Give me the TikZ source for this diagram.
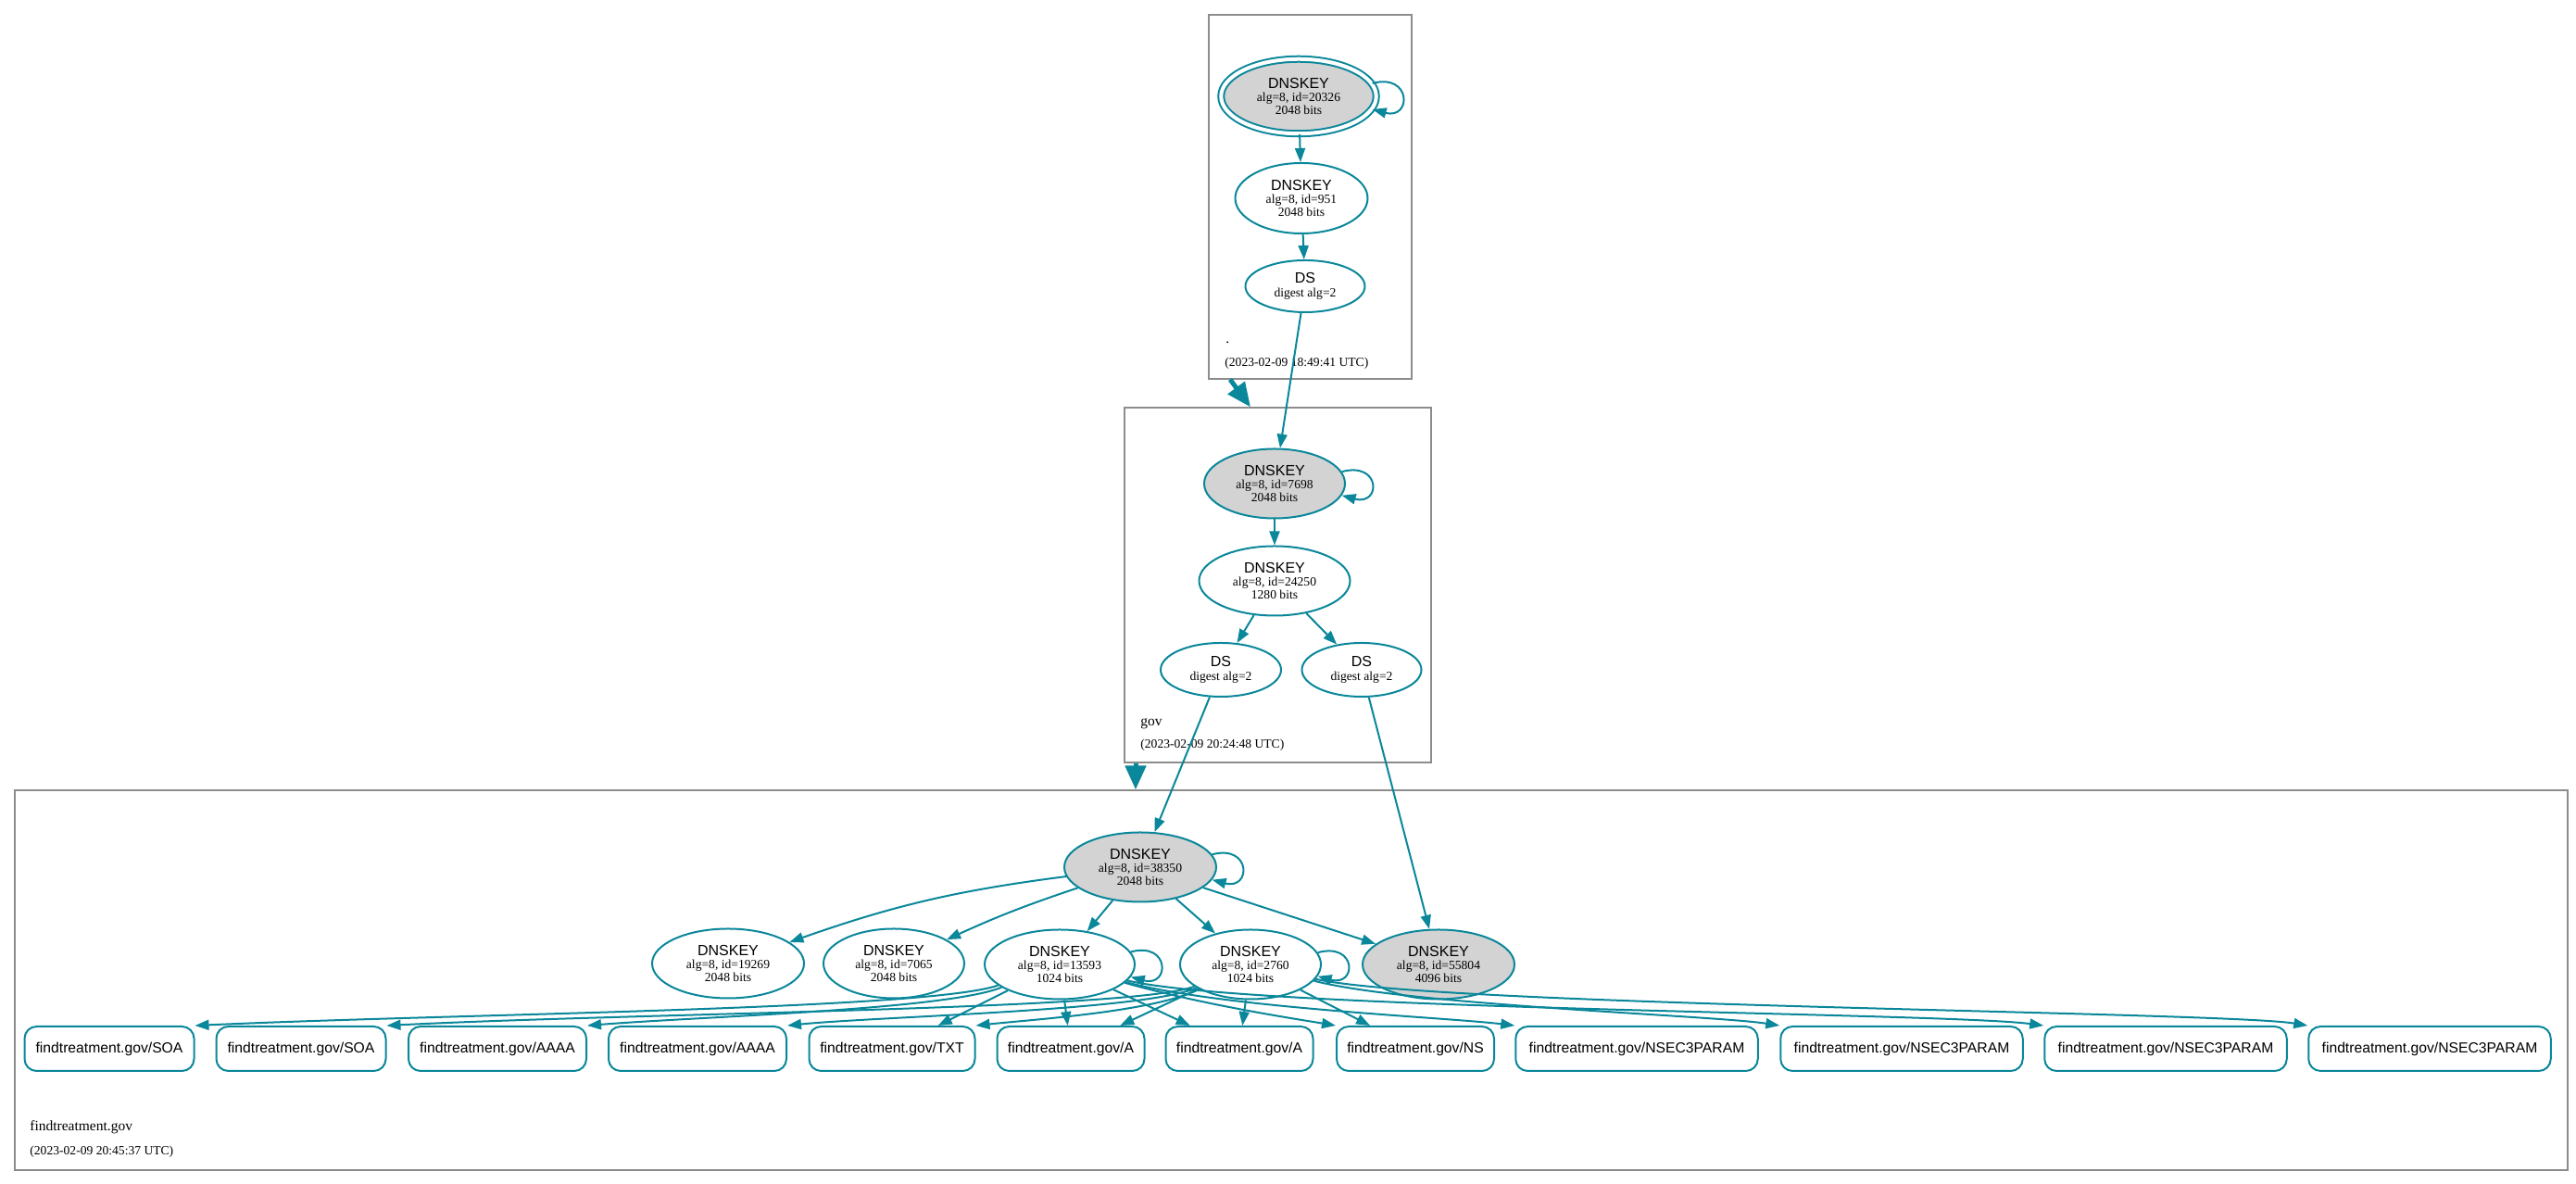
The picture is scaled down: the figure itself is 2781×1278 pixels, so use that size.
\documentclass[tikz,border=0pt]{standalone}
\usepackage{fontspec}
\setmainfont{Liberation Serif}
\setsansfont{Liberation Sans}
\usetikzlibrary{shapes.geometric,arrows.meta}

\definecolor{secure}{HTML}{0A879A}
\definecolor{keygray}{HTML}{D3D3D3}
\definecolor{zonegray}{HTML}{8C8C8C}

\newcommand{\rrtype}[1]{{\sffamily\fontsize{8}{8}\selectfont #1}}

\tikzset{
  key/.style={ellipse, draw=secure, line width=1pt, inner sep=0pt, align=center,
    font=\fontsize{6.8}{6.6}\selectfont},
  sepkey/.style={key, fill=keygray},
  anchorkey/.style={sepkey, double=white, double distance=2pt},
  rrset/.style={rectangle, rounded corners=6.5pt, draw=secure, line width=1pt,
    inner sep=0pt, minimum height=24pt, font=\sffamily\fontsize{7.85}{8}\selectfont},
  zone/.style={rectangle, draw=zonegray, line width=0.6pt, inner sep=0pt},
  zonename/.style={anchor=base west, inner sep=0pt, font=\fontsize{7.75}{8}\selectfont},
  stamp/.style={anchor=base west, inner sep=0pt, font=\fontsize{6.8}{7}\selectfont},
  sig/.style={draw=secure, line width=1pt, -{Triangle[length=7.5pt,width=5.5pt]}},
  selfsig/.style={sig, out=15, in=-15, distance=22pt},
  deleg/.style={draw=secure, line width=2.5pt, -{Triangle[length=13pt,width=11pt]}}
}

\begin{document}
\begin{tikzpicture}[x=0.5pt,y=0.5pt]
      \useasboundingbox (0,0) rectangle (2781,1278);
      \node[zone, minimum width=109.5pt, minimum height=196.5pt] (rootzone) at (1414.5,1065.5) {};
      \node[zone, minimum width=165.5pt, minimum height=191.5pt] (govzone) at (1379.5,646.5) {};
      \node[zone, minimum width=1378pt, minimum height=205pt] (ftzone) at (1394,220) {};
      \node[zonename] (rootname) at (1323,907) {.};
      \node[stamp] (rootstamp) at (1322,882.4) {(2023-02-09 18:49:41 UTC)};
      \node[zonename] (govname) at (1231,494.5) {gov};
      \node[stamp] (govstamp) at (1231,470.4) {(2023-02-09 20:24:48 UTC)};
      \node[zonename] (ftname) at (32,57) {findtreatment.gov};
      \node[stamp] (ftstamp) at (32,31.5) {(2023-02-09 20:45:37 UTC)};

      \node[anchorkey, minimum width=83.75pt, minimum height=40.25pt] (k20326) at (1402,1174)
        {\rrtype{DNSKEY}\\[0.4pt]alg=8, id=20326\\2048 bits};
      \node[key, minimum width=71.5pt, minimum height=38pt] (k951) at (1405,1064)
        {\rrtype{DNSKEY}\\[0.4pt]alg=8, id=951\\2048 bits};
      \node[key, minimum width=64.5pt, minimum height=28pt] (dsroot) at (1409,969)
        {\rrtype{DS}\\[0.6pt]digest alg=2};

      \node[sepkey, minimum width=76pt, minimum height=37.5pt] (k7698) at (1376,756)
        {\rrtype{DNSKEY}\\[0.4pt]alg=8, id=7698\\2048 bits};
      \node[key, minimum width=81.5pt, minimum height=37.5pt] (k24250) at (1376,651)
        {\rrtype{DNSKEY}\\[0.4pt]alg=8, id=24250\\1280 bits};
      \node[key, minimum width=65pt, minimum height=29pt] (dsgova) at (1318,555)
        {\rrtype{DS}\\[0.6pt]digest alg=2};
      \node[key, minimum width=64.5pt, minimum height=29pt] (dsgovb) at (1470,555)
        {\rrtype{DS}\\[0.6pt]digest alg=2};

      \node[sepkey, minimum width=82pt, minimum height=37.5pt] (k38350) at (1231,342)
        {\rrtype{DNSKEY}\\[0.4pt]alg=8, id=38350\\2048 bits};
      \node[key, minimum width=82pt, minimum height=37.5pt] (k19269) at (786,238)
        {\rrtype{DNSKEY}\\[0.4pt]alg=8, id=19269\\2048 bits};
      \node[key, minimum width=76pt, minimum height=37.5pt] (k7065) at (965,238)
        {\rrtype{DNSKEY}\\[0.4pt]alg=8, id=7065\\2048 bits};
      \node[key, minimum width=81pt, minimum height=37.5pt] (k13593) at (1144,237)
        {\rrtype{DNSKEY}\\[0.4pt]alg=8, id=13593\\1024 bits};
      \node[key, minimum width=76pt, minimum height=37.5pt] (k2760) at (1350,237)
        {\rrtype{DNSKEY}\\[0.4pt]alg=8, id=2760\\1024 bits};
      \node[sepkey, minimum width=82pt, minimum height=37.5pt] (k55804) at (1553,237)
        {\rrtype{DNSKEY}\\[0.4pt]alg=8, id=55804\\4096 bits};

      \node[rrset, minimum width=91.5pt] (soa1) at (118,146) {findtreatment.gov/SOA};
      \node[rrset, minimum width=91.5pt] (soa2) at (325,146) {findtreatment.gov/SOA};
      \node[rrset, minimum width=96pt] (aaaa1) at (537,146) {findtreatment.gov/AAAA};
      \node[rrset, minimum width=96pt] (aaaa2) at (753,146) {findtreatment.gov/AAAA};
      \node[rrset, minimum width=89.5pt] (txt) at (963,146) {findtreatment.gov/TXT};
      \node[rrset, minimum width=79.5pt] (a1) at (1156,146) {findtreatment.gov/A};
      \node[rrset, minimum width=79.5pt] (a2) at (1338,146) {findtreatment.gov/A};
      \node[rrset, minimum width=85pt] (ns) at (1528,146) {findtreatment.gov/NS};
      \node[rrset, minimum width=130.75pt] (nsec1) at (1767,146) {findtreatment.gov/NSEC3PARAM};
      \node[rrset, minimum width=130.75pt] (nsec2) at (2053,146) {findtreatment.gov/NSEC3PARAM};
      \node[rrset, minimum width=130.75pt] (nsec3) at (2338,146) {findtreatment.gov/NSEC3PARAM};
      \node[rrset, minimum width=130.75pt] (nsec4) at (2623,146) {findtreatment.gov/NSEC3PARAM};

      \draw[deleg] ([xshift=-43.25pt]rootzone.south) -- ([xshift=-14.75pt]govzone.north);
      \draw[deleg] ([xshift=-76.75pt]govzone.south) -- ([xshift=-84pt]ftzone.north);

      \draw[selfsig] (k20326.10) to (k20326.-10);
      \draw[selfsig] (k7698.10) to (k7698.-10);
      \draw[selfsig] (k38350.10) to (k38350.-10);
      \draw[selfsig] (k13593.10) to (k13593.-10);
      \draw[selfsig] (k2760.10) to (k2760.-10);

      \draw[sig] (k20326) -- (k951);
      \draw[sig] (k951) -- (dsroot);
      \draw[sig] (dsroot) -- (k7698);
      \draw[sig] (k7698) -- (k24250);
      \draw[sig] (k24250) -- (dsgova);
      \draw[sig] (k24250) -- (dsgovb);
      \draw[sig] (dsgova) -- (k38350);
      \draw[sig] (dsgovb) -- (k55804);
      \draw[sig] (k38350) to[bend right=6] (k19269);
      \draw[sig] (k38350) to[bend right=3] (k7065);
      \draw[sig] (k38350) -- (k13593);
      \draw[sig] (k38350) -- (k2760);
      \draw[sig] (k38350) -- (k55804);

      \draw[sig] (k13593) .. controls (1000,188) and (500,184) .. (soa1.north east);
      \draw[sig] (k13593) .. controls (1020,188) and (760,181) .. (aaaa1.north east);
      \draw[sig] (k13593) -- (txt);
      \draw[sig] (k13593) -- (a1);
      \draw[sig] (k13593) -- (a2);
      \draw[sig] (k13593) .. controls (1300,193) and (1400,178) .. (ns.north west);
      \draw[sig] (k13593) .. controls (1320,190) and (1560,180) .. (nsec1.north west);
      \draw[sig] (k13593) .. controls (1350,188) and (2100,185) .. (nsec3.north west);

      \draw[sig] (k2760) .. controls (1225,188) and (700,185) .. (soa2.north east);
      \draw[sig] (k2760) .. controls (1235,187) and (950,181) .. (aaaa2.north east);
      \draw[sig] (k2760) .. controls (1245,186) and (1120,178) .. (txt.north east);
      \draw[sig] (k2760) -- (a1);
      \draw[sig] (k2760) -- (a2);
      \draw[sig] (k2760) -- (ns);
      \draw[sig] (k2760) .. controls (1520,193) and (1850,182) .. (nsec2.north west);
      \draw[sig] (k2760) .. controls (1550,192) and (2400,186) .. (nsec4.north west);
    \end{tikzpicture}
\end{document}
